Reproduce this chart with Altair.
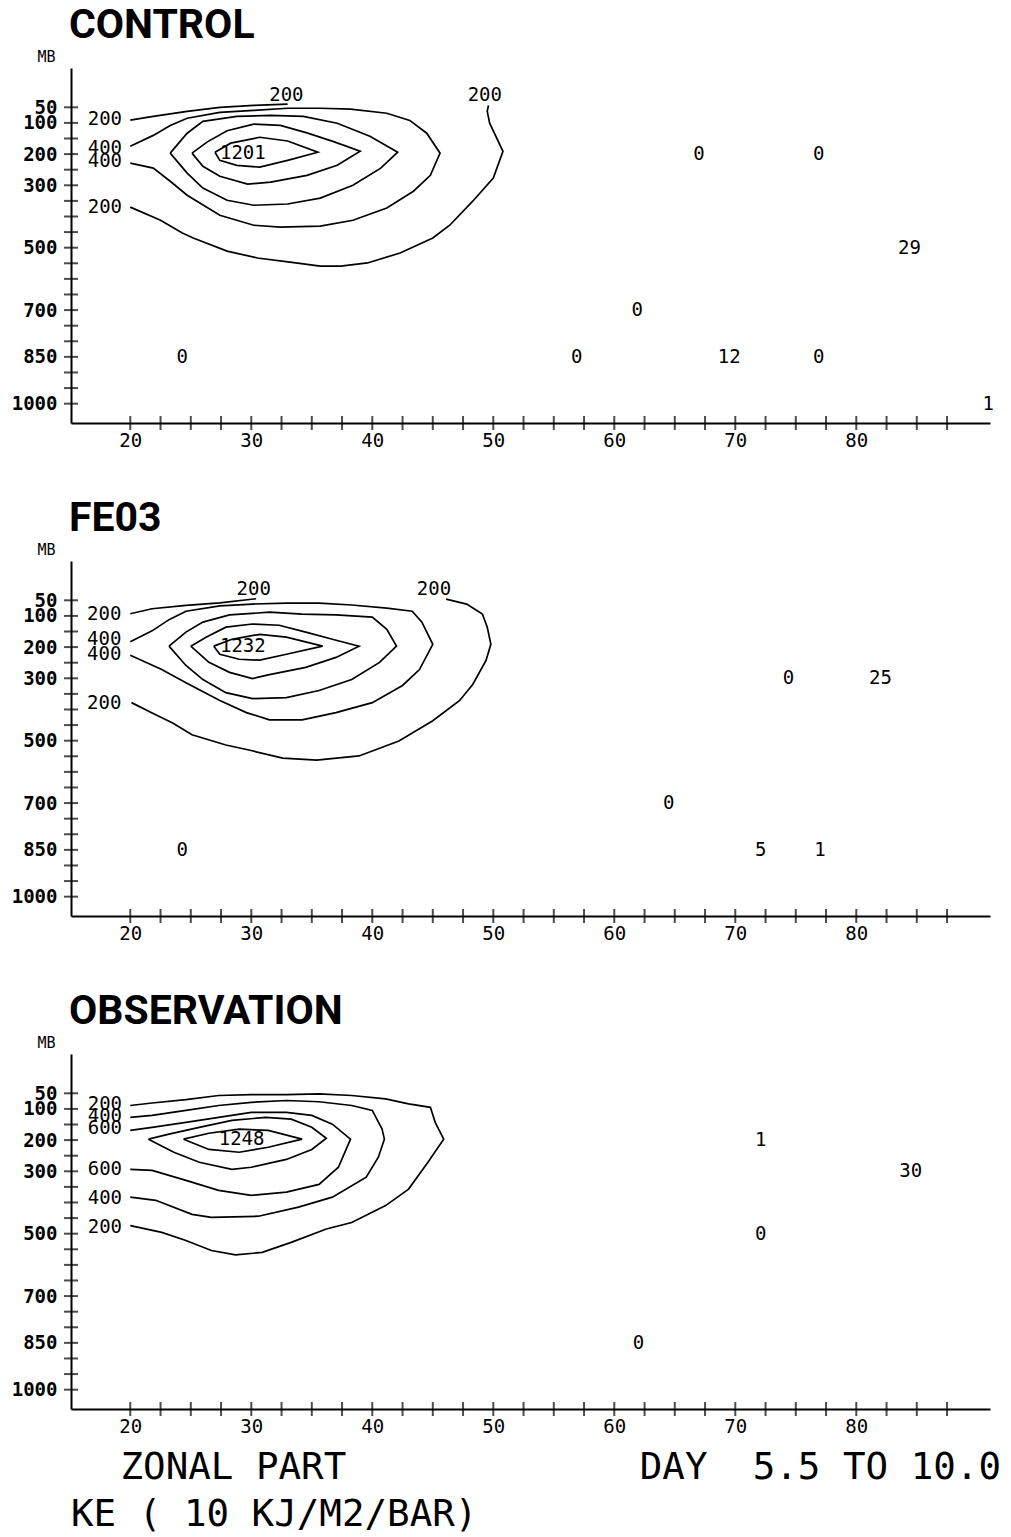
import altair as alt
import pandas as pd

MONO = "DejaVu Sans Mono"
TITLE_FONT = "Roboto"

# ---------------- axes ----------------
X_DOMAIN = [15.1, 91.05]
P_DOMAIN = [-76, 1062]
PRESSURE_TICKS = [50, 100, 150, 200, 250, 300, 350, 400, 450, 500, 550, 600,
                  650, 700, 750, 800, 850, 900, 950, 1000]
PRESSURE_LABELS = [50, 100, 200, 300, 500, 700, 850, 1000]
LAT_TICKS = [20, 22.5, 25, 27.5, 30, 32.5, 35, 37.5, 40, 42.5, 45, 47.5, 50,
             52.5, 55, 57.5, 60, 62.5, 65, 67.5, 70, 72.5, 75, 77.5, 80, 82.5,
             85, 87.5]
LAT_LABELS = [20, 30, 40, 50, 60, 70, 80]

# ---------------- CONTROL ----------------
CTL_200A_LAT = [20.0, 21.9, 24.7, 27.4, 30.2, 33.0]
CTL_200A_P = [91, 79, 63, 50, 44, 40]
CTL_200B_LAT = [49.6, 49.5, 49.7, 50.8, 50.0, 48.3, 46.4, 45.0, 42.3, 39.6, 37.4,
                35.7, 33.2, 30.5, 28.0, 25.2, 24.3, 22.5, 20.0]
CTL_200B_P = [44, 63, 101, 191, 277, 351, 428, 469, 517, 549, 559, 559, 546, 533,
              511, 469, 453, 412, 370]
CTL_400_LAT = [20.0, 21.9, 23.3, 24.7, 27.4, 30.2, 33.0, 35.7, 38.2, 41.2, 43.1,
               44.5, 45.6, 44.8, 43.4, 41.2, 38.4, 35.7, 32.4, 30.2, 27.4, 24.7,
               23.3, 21.9, 20.0]
CTL_400_P = [175, 140, 108, 85, 66, 60, 53, 53, 56, 69, 92, 133, 197, 268, 319,
             373, 412, 431, 434, 428, 396, 332, 287, 245, 229]
CTL_600_LAT = [23.3, 24.7, 26.0, 28.8, 31.6, 34.3, 37.1, 39.8, 42.1, 40.7, 38.4,
               35.7, 33.0, 30.2, 28.0, 26.0, 24.7, 23.3]
CTL_600_P = [197, 133, 95, 79, 76, 79, 101, 143, 194, 245, 300, 341, 360, 364,
             348, 309, 261, 197]
CTL_800_LAT = [25.1, 26.4, 28.0, 30.2, 32.4, 34.6, 36.8, 39.0, 37.1, 34.6, 31.6,
               29.7, 27.4, 26.0, 25.1]
CTL_800_P = [197, 160, 125, 104, 108, 132, 160, 191, 236, 268, 290, 296, 271,
             239, 197]
CTL_1000_LAT = [27.0, 28.3, 30.7, 33.0, 35.5, 33.0, 30.7, 28.8, 27.4, 27.0]
CTL_1000_P = [194, 165, 146, 158, 194, 220, 242, 236, 220, 194]
CTL_LAB_TEXT = ["200", "400", "400", "200", "200", "200", "1201", "0", "0", "0",
                "29", "0", "0", "12", "0", "1"]
CTL_LAB_LAT = [17.9, 17.9, 17.9, 17.9, 32.9, 49.3, 29.3, 24.3, 67.0, 76.9, 84.4,
               61.9, 56.9, 69.5, 76.9, 90.9]
CTL_LAB_P = [88, 180, 222, 370, 12, 12, 197, 850, 200, 200, 500, 700, 850, 850,
             850, 1000]

# ---------------- FE03 ----------------
FE_200A_LAT = [20.0, 21.8, 24.6, 27.4, 30.4]
FE_200A_P = [93, 77, 66, 58, 45]
FE_200B_LAT = [46.1, 47.8, 49.1, 49.5, 49.8, 49.4, 48.3, 47.2, 45.0, 42.2, 38.9,
               35.4, 32.6, 29.8, 27.9, 25.1, 23.5, 22.1, 20.1]
FE_200B_P = [46, 62, 94, 136, 191, 243, 320, 372, 436, 501, 549, 562, 556, 530,
             514, 481, 443, 417, 378]
FE_400_LAT = [20.0, 21.8, 23.2, 24.6, 27.4, 30.1, 32.9, 35.6, 38.3, 41.2, 43.3,
              44.1, 45.0, 43.9, 42.5, 40.0, 37.0, 34.2, 31.5, 29.6, 27.4, 24.6,
              22.6, 20.0]
FE_400_P = [183, 148, 112, 85, 68, 62, 59, 59, 65, 75, 85, 120, 191, 272, 323,
            378, 410, 433, 433, 410, 371, 314, 272, 226]
FE_600_LAT = [23.2, 24.6, 26.0, 28.2, 31.5, 34.2, 37.0, 40.0, 41.2, 42.0, 40.6,
              38.3, 35.6, 32.9, 30.1, 27.9, 26.0, 24.6, 23.2]
FE_600_P = [197, 152, 120, 97, 88, 94, 97, 104, 143, 197, 249, 304, 339, 362,
            365, 346, 304, 259, 197]
FE_800_LAT = [25.0, 26.3, 27.9, 30.1, 32.3, 34.5, 36.7, 38.9, 37.0, 34.5, 31.5,
              30.1, 28.2, 26.5, 25.0]
FE_800_P = [197, 168, 136, 126, 130, 152, 175, 197, 233, 265, 288, 301, 281,
            249, 197]
FE_1000_LAT = [26.9, 28.4, 30.7, 32.9, 35.9, 32.9, 30.7, 29.0, 27.4, 26.9]
FE_1000_P = [197, 175, 159, 168, 197, 223, 242, 239, 223, 197]
FE_LAB_TEXT = ["200", "400", "400", "200", "200", "200", "1232", "0", "0", "25",
               "0", "5", "1"]
FE_LAB_LAT = [17.85, 17.85, 17.85, 17.85, 30.2, 45.1, 29.3, 24.3, 74.4, 82.0,
              64.5, 72.1, 77.0]
FE_LAB_P = [94, 175, 223, 378, 14, 14, 197, 850, 300, 300, 700, 850, 850]

# ---------------- OBSERVATION ----------------
OB_200_LAT = [20.0, 21.8, 24.6, 27.3, 30.0, 32.9, 35.6, 38.3, 41.1, 43.0, 44.8,
              45.2, 45.9, 44.6, 43.0, 41.1, 38.3, 36.2, 33.3, 30.9, 28.7, 26.7,
              24.6, 22.6, 20.0]
OB_200_P = [89, 81, 70, 57, 54, 54, 52, 57, 68, 84, 95, 143, 197, 271, 357, 410,
            464, 485, 528, 560, 568, 554, 522, 496, 474]
OB_400_LAT = [20.0, 21.8, 24.6, 27.3, 30.0, 32.9, 35.6, 38.3, 40.0, 40.8, 41.0,
              40.5, 39.5, 36.7, 33.9, 30.6, 26.7, 25.1, 22.1, 20.0]
OB_400_P = [127, 121, 105, 89, 79, 73, 77, 89, 105, 164, 197, 255, 319, 383, 415,
            444, 448, 438, 393, 383]
OB_600_LAT = [20.0, 21.8, 24.6, 27.3, 30.0, 32.9, 35.0, 36.7, 38.2, 37.2, 35.6,
              32.9, 30.0, 27.3, 24.6, 21.8, 20.0]
OB_600_P = [169, 159, 143, 127, 111, 111, 121, 149, 197, 287, 342, 367, 377, 361,
            329, 297, 294]
OB_800_LAT = [21.5, 23.2, 25.7, 28.4, 31.2, 33.3, 35.0, 36.2, 35.0, 32.9, 30.0,
              28.4, 25.7, 23.6, 21.5]
OB_800_P = [197, 181, 159, 137, 127, 133, 159, 194, 230, 262, 287, 294, 271, 239,
            197]
OB_1000_LAT = [24.4, 26.5, 29.0, 31.4, 34.2, 31.4, 29.0, 26.5, 24.4]
OB_1000_P = [197, 178, 165, 169, 197, 223, 239, 230, 197]
OB_LAB_TEXT = ["200", "400", "600", "600", "400", "200", "1248", "1", "30", "0",
               "0"]
OB_LAB_LAT = [17.9, 17.9, 17.9, 17.9, 17.9, 17.9, 29.2, 72.1, 84.5, 72.1, 62.0]
OB_LAB_P = [84, 122, 160, 294, 387, 480, 197, 200, 300, 500, 850]

FOOT_LINE1 = "ZONAL PART" + "\u00a0" * 13 + "DAY\u00a0\u00a05.5\u00a0TO\u00a010.0"
FOOT_LINE2 = "KE ( 10 KJ/M2/BAR)"

W, H = 919, 355


def build_panel(title, contours, lab_text, lab_lat, lab_p, x_title=None):
    rows = []
    for cid, (lats, ps) in enumerate(contours):
        for k, (a, b) in enumerate(zip(lats, ps)):
            rows.append({"cid": cid, "seq": k, "lat": a, "p": b})
    line_df = pd.DataFrame(rows)
    lab_df = pd.DataFrame({"text": lab_text, "lat": lab_lat, "p": lab_p})
    xs = alt.Scale(domain=X_DOMAIN, nice=False, zero=False)
    ys = alt.Scale(domain=P_DOMAIN, nice=False, zero=False, reverse=True)
    x_kw = dict(values=LAT_LABELS, ticks=False, grid=False, labelOverlap=False,
                format="d", domainColor="black", domainWidth=2, labelFont=MONO,
                labelFontSize=19, labelColor="black", labelPadding=8)
    if x_title:
        x_kw.update(title=x_title, titleFont=MONO, titleFontSize=37.5,
                    titleFontWeight="normal", titleColor="black",
                    titleAlign="left", titleAnchor="start", titleX=49,
                    titleY=69, titleBaseline="alphabetic")
    else:
        x_kw.update(title=None)
    x_axis = alt.Axis(**x_kw)
    y_axis = alt.Axis(values=PRESSURE_LABELS, ticks=False, grid=False,
                      labelOverlap=False, format="d",
                      domainColor="black", domainWidth=2, labelFont=MONO,
                      labelFontSize=19, labelFontWeight="bold",
                      labelColor="black", labelPadding=14, title="MB",
                      titleAngle=0, titleX=-25, titleY=-4, titleAlign="center",
                      titleBaseline="bottom", titleFont=MONO, titleFontSize=15,
                      titleFontWeight="normal", titleColor="black")
    X = alt.X("lat:Q", scale=xs, axis=x_axis)
    Y = alt.Y("p:Q", scale=ys, axis=y_axis)
    lines = alt.Chart(line_df).mark_line(color="black", strokeWidth=1.7).encode(
        x=X, y=Y, detail="cid:N", order="seq:Q")
    texts = alt.Chart(lab_df).mark_text(font=MONO, fontSize=19, color="black").encode(
        x=X, y=Y, text="text:N")
    yt = alt.Chart(pd.DataFrame({"p": PRESSURE_TICKS})).mark_tick(
        orient="horizontal", size=14, thickness=2, color="black").encode(
        y=Y, x=alt.value(0))
    xt = alt.Chart(pd.DataFrame({"lat": LAT_TICKS})).mark_tick(
        orient="vertical", size=14, thickness=2, color="black").encode(
        x=X, y=alt.value(H))
    return alt.layer(lines, texts, yt, xt).properties(
        width=W, height=H,
        title=alt.TitleParams(text=title, anchor="start", frame="group",
                              font=TITLE_FONT, fontSize=41, fontWeight="bold",
                              color="black", offset=2, dx=-2))


p1 = build_panel("CONTROL",
                 [(CTL_200A_LAT, CTL_200A_P), (CTL_200B_LAT, CTL_200B_P),
                  (CTL_400_LAT, CTL_400_P), (CTL_600_LAT, CTL_600_P),
                  (CTL_800_LAT, CTL_800_P), (CTL_1000_LAT, CTL_1000_P)],
                 CTL_LAB_TEXT, CTL_LAB_LAT, CTL_LAB_P)
p2 = build_panel("FE03",
                 [(FE_200A_LAT, FE_200A_P), (FE_200B_LAT, FE_200B_P),
                  (FE_400_LAT, FE_400_P), (FE_600_LAT, FE_600_P),
                  (FE_800_LAT, FE_800_P), (FE_1000_LAT, FE_1000_P)],
                 FE_LAB_TEXT, FE_LAB_LAT, FE_LAB_P)
p3 = build_panel("OBSERVATION",
                 [(OB_200_LAT, OB_200_P), (OB_400_LAT, OB_400_P),
                  (OB_600_LAT, OB_600_P), (OB_800_LAT, OB_800_P),
                  (OB_1000_LAT, OB_1000_P)],
                 OB_LAB_TEXT, OB_LAB_LAT, OB_LAB_P, x_title=FOOT_LINE1)

chart = alt.vconcat(p1, p2, p3, spacing=48).properties(
    title=alt.TitleParams(text=FOOT_LINE2, orient="bottom",
                          anchor="start", frame="group", font=MONO,
                          fontSize=37.5, fontWeight="normal",
                          color="black", offset=10),
    padding={"left": 11, "top": 5, "right": 0, "bottom": 0},
).configure_view(strokeWidth=0)

chart.save("out.html", embed_options={"renderer": "svg", "actions": False})
